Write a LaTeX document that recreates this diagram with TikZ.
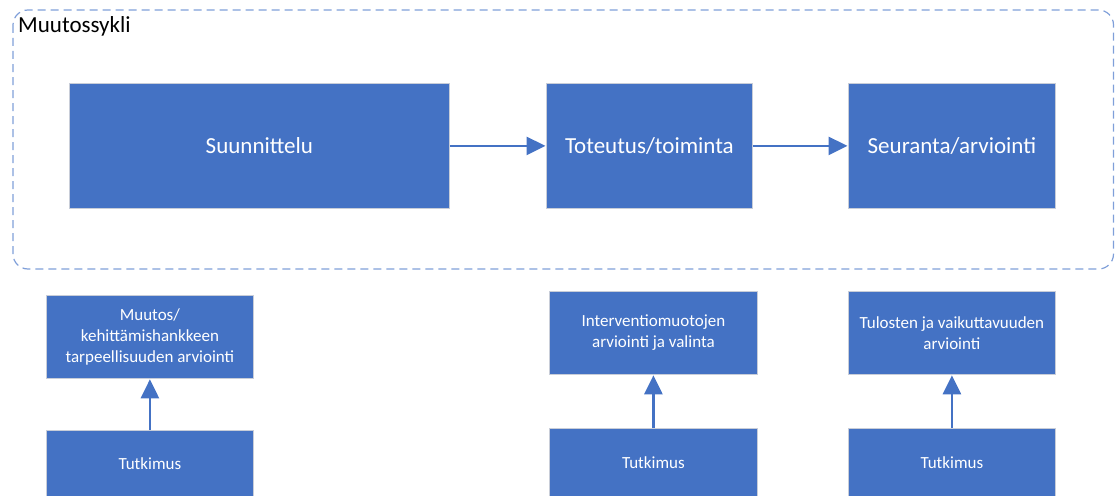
\documentclass[tikz,border=0pt]{standalone}
\usepackage{fontspec}
\setmainfont{Carlito}
\usetikzlibrary{arrows.meta}
\definecolor{boxblue}{HTML}{4472C4}
\definecolor{dashblue}{HTML}{7F9FD9}
\definecolor{edgegray}{HTML}{C8CDD8}
\tikzset{
  bigbox/.style={fill=boxblue, draw=edgegray, line width=0.8pt, text=white,
    anchor=north west, inner sep=0pt, align=center,
    font=\fontsize{23}{27}\selectfont},
  smallbox/.style={fill=boxblue, draw=edgegray, line width=0.8pt, text=white,
    anchor=north west, inner sep=0pt, align=center,
    font=\fontsize{17}{21}\selectfont},
  flow/.style={draw=boxblue, line width=2.6pt,
    -{Triangle[length=19pt,width=18pt]}, shorten >=0.5pt},
  cycleframe/.style={draw=dashblue, line width=1.2pt, rounded corners=15pt,
    dash pattern=on 8pt off 5pt}
}
\begin{document}
\begin{tikzpicture}[x=1pt,y=-1pt]
\useasboundingbox (0,0) rectangle (1115,495);
\begin{scope}
\clip (0,0) rectangle (1115,495);

% change cycle frame
\draw[cycleframe] (13,10) rectangle (1113.5,269);
\node[anchor=base west, inner sep=0pt, font=\fontsize{23}{27}\selectfont] (title) at (18,33) {Muutossykli};

% main phases
\node[bigbox, minimum width=380pt, minimum height=125pt] (plan) at (69,83) {Suunnittelu};
\node[bigbox, minimum width=206pt, minimum height=125pt] (impl) at (546,83) {Toteutus/toiminta};
\node[bigbox, minimum width=207pt, minimum height=125pt] (eval) at (848,83) {Seuranta/arviointi};

\draw[flow] (plan.east) -- (impl.west);
\draw[flow] (impl.east) -- (eval.west);

% evaluation tasks
\node[smallbox, minimum width=207pt, minimum height=83pt] (need) at (46,295)
  {Muutos/\\kehittämishankkeen\\tarpeellisuuden arviointi};
\node[smallbox, minimum width=208pt, minimum height=83pt] (interv) at (549,291)
  {Interventiomuotojen\\arviointi ja valinta};
\node[smallbox, minimum width=207pt, minimum height=83pt] (result) at (848,291)
  {Tulosten ja vaikuttavuuden\\arviointi};

% research boxes
\node[smallbox, minimum width=207pt, minimum height=67pt] (res1) at (46,430) {Tutkimus};
\node[smallbox, minimum width=208pt, minimum height=68pt] (res2) at (549,428) {Tutkimus};
\node[smallbox, minimum width=207pt, minimum height=68pt] (res3) at (848,428) {Tutkimus};

\draw[flow] (res1.north) -- (need.south);
\draw[flow] (res2.north) -- (interv.south);
\draw[flow] (res3.north) -- (result.south);
\end{scope}
\end{tikzpicture}
\end{document}
